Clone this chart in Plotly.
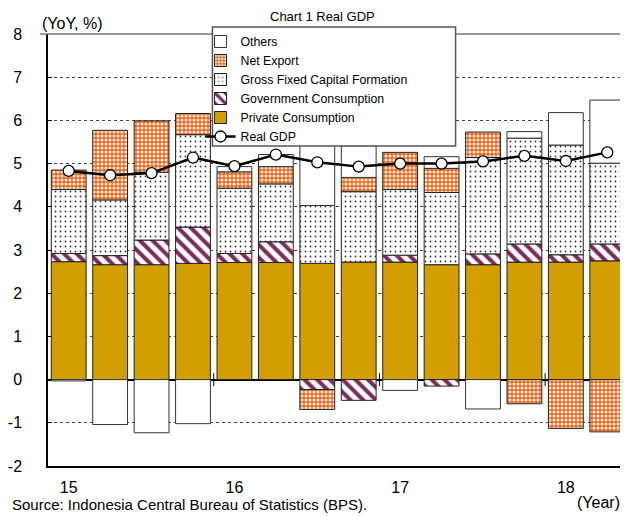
import plotly.graph_objects as go

quarters = ["15Q1", "15Q2", "15Q3", "15Q4", "16Q1", "16Q2", "16Q3", "16Q4",
            "17Q1", "17Q2", "17Q3", "17Q4", "18Q1", "18Q2"]
private_consumption = [2.73, 2.66, 2.66, 2.69, 2.71, 2.71, 2.69, 2.72, 2.72, 2.66, 2.66, 2.72, 2.72, 2.75]
government_consumption = [0.19, 0.21, 0.57, 0.84, 0.21, 0.48, -0.23, -0.48, 0.16, -0.15, 0.25, 0.42, 0.17, 0.39]
gross_fixed_capital = [1.48, 1.29, 1.57, 2.14, 1.51, 1.34, 1.34, 1.63, 1.52, 1.67, 2.23, 2.45, 2.54, 1.87]
net_export = [0.45, 1.61, 1.19, 0.49, 0.38, 0.40, -0.46, 0.33, 0.86, 0.56, 0.59, -0.56, -1.13, -1.21]
others = [-0.03, -1.04, -1.23, -1.02, 0.12, 0.28, 1.69, 0.73, -0.25, 0.27, -0.68, 0.15, 0.75, 1.46]
real_gdp = [4.83, 4.73, 4.78, 5.14, 4.94, 5.21, 5.03, 4.93, 5.00, 5.00, 5.05, 5.18, 5.06, 5.26]
year_tick_positions = [0, 4, 8, 12]
year_tick_labels = ["15", "16", "17", "18"]
year_boundaries = [3.5, 7.5, 11.5]
y_tick_values = [-2, -1, 0, 1, 2, 3, 4, 5, 6, 7, 8]
y_tick_labels = ["-2", "-1", "0", "1", "2", "3", "4", "5", "6", "7", "8"]

x = list(range(len(quarters)))
FONT = "Liberation Sans, Arial, sans-serif"
edge = dict(color="#222222", width=1)

fig = go.Figure()
fig.add_trace(go.Bar(x=x, y=private_consumption, name="Private Consumption",
                     marker=dict(color="#D39E00", line=edge), legendrank=5))
fig.add_trace(go.Bar(x=x, y=government_consumption, name="Government Consumption",
                     marker=dict(color="white", line=edge,
                                 pattern=dict(shape="\\", fgcolor="#7B2C5E", bgcolor="white",
                                              size=9, solidity=0.45, fillmode="replace")),
                     legendrank=4))
fig.add_trace(go.Bar(x=x, y=gross_fixed_capital, name="Gross Fixed Capital Formation",
                     marker=dict(color="white", line=edge,
                                 pattern=dict(shape=".", fgcolor="#333333", bgcolor="white",
                                              size=5, solidity=0.1, fillmode="replace")),
                     legendrank=3))
fig.add_trace(go.Bar(x=x, y=net_export, name="Net Export",
                     marker=dict(color="#E2661E", line=edge,
                                 pattern=dict(shape=".", fgcolor="#FBE3D2", bgcolor="#E2661E",
                                              size=4, solidity=0.5, fillmode="replace")),
                     legendrank=2))
fig.add_trace(go.Bar(x=x, y=others, name="Others",
                     marker=dict(color="white", line=dict(color="#333333", width=1)),
                     legendrank=1))
fig.add_trace(go.Scatter(x=x, y=real_gdp, name="Real GDP", mode="lines+markers",
                         line=dict(color="black", width=2.5),
                         marker=dict(symbol="circle", size=11, color="white",
                                     line=dict(color="black", width=1.3)),
                         legendrank=6))

# small year-separator marks crossing the zero line
separator_shapes = [
    dict(type="line", xref="x", yref="y", x0=b, x1=b, y0=-0.15, y1=0.15,
         line=dict(color="black", width=1), layer="above")
    for b in year_boundaries
]

fig.update_layout(
    width=620, height=508,
    margin=dict(l=38, r=0, t=26, b=50),
    paper_bgcolor="white", plot_bgcolor="white",
    barmode="relative", bargap=0.16,
    font=dict(family=FONT, color="black", size=16),
    showlegend=True,
    legend=dict(traceorder="normal", x=0.263, y=1.0162, xanchor="left", yanchor="top",
                bgcolor="rgba(0,0,0,0)", borderwidth=0, font=dict(size=12.3, family=FONT),
                itemwidth=30, tracegroupgap=0),
    xaxis=dict(range=[-0.5, 13.5], tickmode="array", tickvals=year_tick_positions,
               ticktext=year_tick_labels, showgrid=False, zeroline=False,
               showline=True, linecolor="black", linewidth=1.5, ticks="",
               ticklabelstandoff=6, tickfont=dict(size=16)),
    yaxis=dict(range=[-2, 8], tickmode="array", tickvals=y_tick_values,
               ticktext=y_tick_labels, showgrid=True, gridcolor="#444444",
               griddash="dot", gridwidth=1, zeroline=True, zerolinecolor="black",
               zerolinewidth=1.5, showline=True, linecolor="black", linewidth=1.5,
               ticks="inside", ticklen=4, tickcolor="black", ticklabelstandoff=21,
               tickfont=dict(size=16)),
    shapes=[
        dict(type="line", xref="paper", yref="paper", x0=-0.014, x1=1, y0=1, y1=1,
             line=dict(color="#777777", width=1.5)),
        dict(type="rect", xref="paper", yref="paper", x0=0.2835, x1=0.7027, y0=0.7407, y1=1.0162,
             fillcolor="white", line=dict(color="#555555", width=1.5), layer="above"),
    ] + separator_shapes,
    annotations=[
        dict(text="Chart 1 Real GDP", xref="paper", yref="paper", x=0.4725, y=1.0394,
             xanchor="center", yanchor="middle", showarrow=False,
             font=dict(size=13, family=FONT)),
        dict(text="(YoY, %)", xref="paper", yref="paper", x=-0.0137, y=1.025,
             xanchor="left", yanchor="middle", showarrow=False, font=dict(size=16, family=FONT)),
        dict(text="(Year)", xref="paper", yref="paper", x=0.99, y=-0.085,
             xanchor="right", yanchor="middle", showarrow=False, font=dict(size=16, family=FONT)),
        dict(text="Source: Indonesia Central Bureau of Statistics (BPS).", xref="paper",
             yref="paper", x=-0.0653, y=-0.09, xanchor="left", yanchor="middle",
             showarrow=False, font=dict(size=15, family=FONT)),
    ],
)

fig.write_html("out.html")
